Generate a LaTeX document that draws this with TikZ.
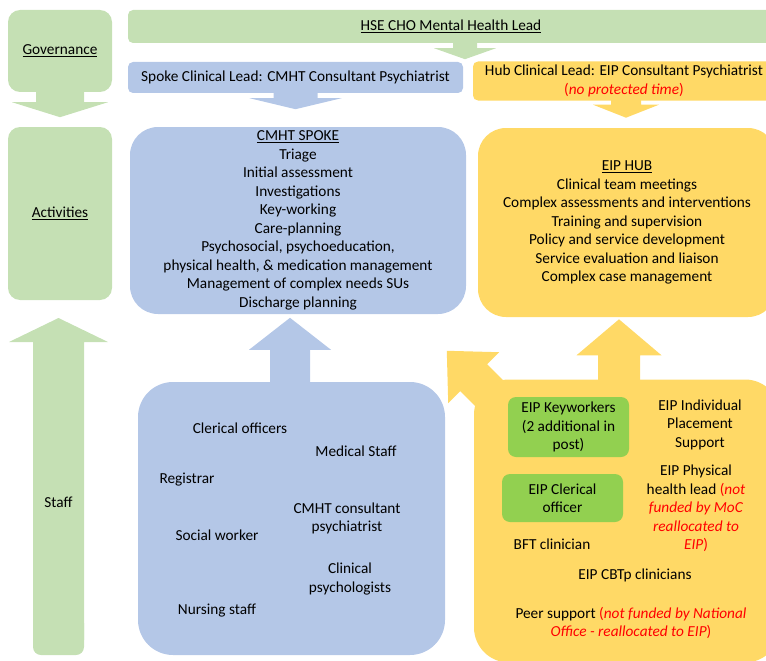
\documentclass[tikz,border=0pt]{standalone}
\usepackage{fontspec}
\setmainfont{Carlito}
\usetikzlibrary{positioning, calc}
\definecolor{govgreen}{HTML}{C5E0B4}
\definecolor{spokeblue}{HTML}{B4C7E7}
\definecolor{hubyellow}{HTML}{FFD966}
\definecolor{postgreen}{HTML}{92D050}
\definecolor{notered}{HTML}{FF0000}
\newcommand{\redtext}[1]{\textcolor{notered}{#1}}
% block arrow: colour, start, shaft length, head length, shaft half width, head half width
\newcommand{\blockarrow}[6]{\fill[#1] (#2) ++({-#5},0) -- ++(0,{#3}) -- ++({#5-#6},0) -- ++({#6},{#4}) -- ++({#6},{-1*(#4)}) -- ++({#5-#6},0) -- ++(0,{-1*(#3)}) -- cycle;}
\tikzset{
    panel/.style={rounded corners=#1, inner sep=0pt, align=center},
    post/.style={rounded corners=8pt, fill=postgreen, inner sep=0pt, align=center},
    member/.style={inner sep=0pt, align=center},
}

\begin{document}
\begin{tikzpicture}[x=1pt, y=-1pt, font=\fontsize{15.3}{18.5}\selectfont]
\useasboundingbox (0,0) rectangle (766,661);

    % Governance column
    \node[panel=12pt, fill=govgreen, minimum width=104, minimum height=82] (governance) at (60,51) {\underline{Governance}};
    \node[panel=12pt, fill=govgreen, minimum width=104, minimum height=173] (activities) at (60,213.5) {\underline{Activities}};

    % Leads
    \node[panel=5pt, fill=govgreen, minimum width=646, minimum height=33] (cholead) at (451,26.5) {\underline{HSE CHO Mental Health Lead}};
    \node[panel=5pt, fill=spokeblue, minimum width=335, minimum height=31] (spokelead) at (295.5,77.5) {Spoke Clinical Lead: CMHT Consultant Psychiatrist};
    \node[panel=5pt, fill=hubyellow, minimum width=302, minimum height=39, font=\fontsize{15.3}{19.5}\selectfont] (hublead) at (624,81) {Hub Clinical Lead: EIP Consultant Psychiatrist\\\redtext{(\textit{no protected time})}};

    % Activities
    \node[panel=28pt, fill=spokeblue, minimum width=336, minimum height=187] (spoke) at (298,220.5) {\underline{CMHT SPOKE}\\Triage\\Initial assessment\\Investigations\\Key-working\\Care-planning\\Psychosocial, psychoeducation,\\physical health, \& medication management\\Management of complex needs SUs\\Discharge planning};
    \node[panel=28pt, fill=hubyellow, minimum width=298, minimum height=189] (hub) at (627,222.5) {\underline{EIP HUB}\\Clinical team meetings\\Complex assessments and interventions\\Training and supervision\\Policy and service development\\Service evaluation and liaison\\Complex case management};

    % Staff boxes
    \node[panel=35pt, fill=spokeblue, minimum width=307, minimum height=273] (cmhtstaff) at (291.5,518.5) {};
    \node[panel=35pt, fill=hubyellow, minimum width=306, minimum height=283] (eipstaff) at (627,521) {};

    % Arrows
    \blockarrow{govgreen}{governance.south}{10}{15}{24}{48}
    \blockarrow{govgreen}{$(cholead.south)+(14,-1)$}{6}{11}{12}{31}
    \blockarrow{spokeblue}{$(spokelead.south)+(0,-1)$}{6}{11}{22}{46}
    \blockarrow{hubyellow}{$(hublead.south)+(2,-1)$}{5}{13}{15}{33}
    \blockarrow{spokeblue}{$(cmhtstaff.north)+(-1.5,2)$}{-34}{-32}{20}{41}
    \blockarrow{hubyellow}{$(eipstaff.north)+(-8,2)$}{-26}{-36}{21}{42.5}
    \begin{scope}[shift={(497,401)}, rotate=225]
        \blockarrow{hubyellow}{0,0}{33}{38}{19}{36}
    \end{scope}
    \coordinate (stafffoot) at (58.5,655);
    \fill[govgreen, rounded corners=8pt] ($(stafffoot)+(-25.5,-40)$) rectangle ($(stafffoot)+(25.5,0)$);
    \blockarrow{govgreen}{$(stafffoot)+(0,-15)$}{-298}{-24}{25.5}{49.5}
    \node[member] (staff) at (58.5,502) {Staff};

    % CMHT staff
    \node[member] (clerical) at (240,428) {Clerical officers};
    \node[member] (medical) at (356,451) {Medical Staff};
    \node[member] (registrar) at (187,480) {Registrar};
    \node[member] (consultant) at (347,518.5) {CMHT consultant\\psychiatrist};
    \node[member] (socialworker) at (217,535) {Social worker};
    \node[member] (psychologists) at (350,579) {Clinical\\psychologists};
    \node[member] (nursing) at (217,611) {Nursing staff};

    % EIP staff
    \node[post, minimum width=121, minimum height=60] (keyworkers) at (568.5,427) {EIP Keyworkers\\(2 additional in\\post)};
    \node[post, minimum width=121, minimum height=48] (eipclerical) at (562.5,498) {EIP Clerical\\officer};
    \node[member] (ips) at (700,424.5) {EIP Individual\\Placement\\Support};
    \node[member] (physical) at (696,508.5) {EIP Physical\\health lead \redtext{(\textit{not}}\\\redtext{\textit{funded by MoC}}\\\redtext{\textit{reallocated to}}\\\redtext{\textit{EIP})}};
    \node[member] (bft) at (552,544) {BFT clinician};
    \node[member] (cbtp) at (635,575) {EIP CBTp clinicians};
    \node[member] (peer) at (631,623) {Peer support \redtext{(\textit{not funded by National}}\\\redtext{\textit{Office - reallocated to EIP})}};

\end{tikzpicture}
\end{document}
